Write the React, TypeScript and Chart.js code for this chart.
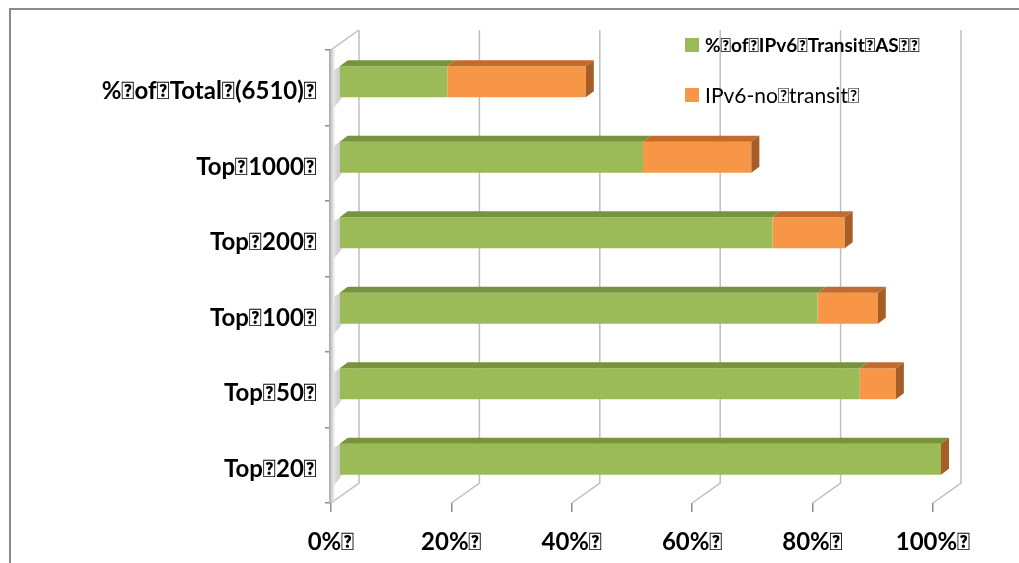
import React, { useEffect, useRef } from "react";
import { Chart, registerables } from "chart.js";
Chart.register(...registerables);

const T = "\uF020";
const categories = [
  `%${T}of${T}Total${T}(6510)${T}`,
  `Top${T}1000${T}`,
  `Top${T}200${T}`,
  `Top${T}100${T}`,
  `Top${T}50${T}`,
  `Top${T}20${T}`,
];
const transitValues = [18, 50.5, 72, 79.5, 86.5, 100];
const noTransitValues = [23, 18, 12, 10, 6, 0];
const seriesNames = [`%${T}of${T}IPv6${T}Transit${T}AS${T}${T}`, `IPv6-no${T}transit${T}`];
const xTickValues = [0, 20, 40, 60, 80, 100];

const FONT = "Lato, 'Liberation Sans', sans-serif";
const GREEN = "#9BBB59";
const ORANGE = "#F79646";
const faceColors = [
  { top: "#77933C", side: "#6E8A36" },
  { top: "#C46A2C", side: "#A65E26" },
];
const DEPTH = { x: 28, y: -20 };
const BAR_OFF = { x: 8, y: -6 };
const BAR_DEPTH = { x: 8, y: -6 };

const threeD = {
  id: "threeD",
  beforeDatasetsDraw(chart: any) {
    const { ctx, chartArea } = chart;
    const xs = chart.scales.x;
    const { top, bottom, left } = chartArea;
    ctx.save();
    ctx.strokeStyle = "#BFBFBF";
    ctx.lineWidth = 1.5;
    xTickValues.forEach((v) => {
      const px = xs.getPixelForValue(v);
      ctx.beginPath();
      ctx.moveTo(px + DEPTH.x, top + DEPTH.y);
      ctx.lineTo(px + DEPTH.x, bottom + DEPTH.y);
      ctx.lineTo(px, bottom);
      ctx.stroke();
    });
    ctx.beginPath();
    ctx.moveTo(left, bottom);
    ctx.lineTo(left, top);
    ctx.lineTo(left + DEPTH.x, top + DEPTH.y);
    ctx.stroke();
    const wg = ctx.createLinearGradient(left - 2, 0, left + 5, 0);
    wg.addColorStop(0, "#A6A6A6");
    wg.addColorStop(0.4, "#D0D0D0");
    wg.addColorStop(1, "rgba(230,230,230,0)");
    ctx.fillStyle = wg;
    ctx.fillRect(left - 2, top, 7, bottom - top);
    const meta = chart.getDatasetMeta(0);
    meta.data.forEach((el: any) => {
      const p = el.getProps(["y", "height"], true);
      const y0 = p.y - p.height / 2 + BAR_OFF.y;
      const g = ctx.createLinearGradient(left, 0, left + BAR_OFF.x + 6, 0);
      g.addColorStop(0, "rgba(0,0,0,0.0)");
      g.addColorStop(0.5, "rgba(0,0,0,0.2)");
      g.addColorStop(1, "rgba(0,0,0,0.0)");
      ctx.fillStyle = g;
      ctx.beginPath();
      ctx.moveTo(left + 3, y0 + 4);
      ctx.lineTo(left + BAR_OFF.x + 4, y0 - 2);
      ctx.lineTo(left + BAR_OFF.x + 4, y0 + p.height);
      ctx.lineTo(left + 3, y0 + p.height + 10);
      ctx.closePath();
      ctx.fill();
    });
    ctx.restore();
    ctx.save();
    ctx.translate(BAR_OFF.x, BAR_OFF.y);
  },
  afterDatasetsDraw(chart: any) {
    const { ctx } = chart;
    chart.data.datasets.forEach((ds: any, di: number) => {
      const meta = chart.getDatasetMeta(di);
      meta.data.forEach((el: any) => {
        const p = el.getProps(["x", "y", "base", "height"], true);
        const t = p.y - p.height / 2;
        const b = p.y + p.height / 2;
        const x0 = Math.min(p.x, p.base);
        const x1 = Math.max(p.x, p.base);
        if (x1 - x0 > 0.1) {
          ctx.fillStyle = faceColors[di].top;
          ctx.beginPath();
          ctx.moveTo(x0, t);
          ctx.lineTo(x1, t);
          ctx.lineTo(x1 + BAR_DEPTH.x, t + BAR_DEPTH.y);
          ctx.lineTo(x0 + BAR_DEPTH.x, t + BAR_DEPTH.y);
          ctx.closePath();
          ctx.fill();
        }
        if (di === chart.data.datasets.length - 1) {
          ctx.fillStyle = faceColors[di].side;
          ctx.beginPath();
          ctx.moveTo(x1, t);
          ctx.lineTo(x1 + BAR_DEPTH.x, t + BAR_DEPTH.y);
          ctx.lineTo(x1 + BAR_DEPTH.x, b + BAR_DEPTH.y);
          ctx.lineTo(x1, b);
          ctx.closePath();
          ctx.fill();
        }
      });
    });
    ctx.restore();
  },
  afterDraw(chart: any) {
    const { ctx } = chart;
    ctx.save();
    ctx.strokeStyle = "#8C8C8C";
    ctx.lineWidth = 2;
    ctx.beginPath();
    ctx.moveTo(10, 563);
    ctx.lineTo(10, 9);
    ctx.lineTo(1019, 9);
    ctx.stroke();
    const items = [
      { label: seriesNames[0], color: GREEN, y: 45, bold: true, size: 19 },
      { label: seriesNames[1], color: ORANGE, y: 95, bold: false, size: 21 },
    ];
    items.forEach((it) => {
      ctx.fillStyle = it.color;
      ctx.fillRect(685, it.y - 7, 14, 14);
      ctx.fillStyle = "#000";
      ctx.font = `${it.bold ? "bold " : ""}${it.size}px ${FONT}`;
      ctx.textBaseline = "middle";
      ctx.textAlign = "left";
      ctx.fillText(it.label, 705, it.y + 1);
    });
    ctx.restore();
  },
};

export default function App() {
  const ref = useRef<HTMLCanvasElement>(null);
  useEffect(() => {
    const chart = new Chart(ref.current!, {
      type: "bar",
      data: {
        labels: categories,
        datasets: [
          { label: seriesNames[0], data: transitValues, backgroundColor: GREEN },
          { label: seriesNames[1], data: noTransitValues, backgroundColor: ORANGE },
        ],
      },
      options: {
        indexAxis: "y",
        responsive: false,
        animation: false,
        maintainAspectRatio: false,
        layout: { padding: { left: 0, right: 86, top: 50, bottom: 0 } },
        datasets: { bar: { barPercentage: 0.41, categoryPercentage: 1 } },
        plugins: { legend: { display: false }, tooltip: { enabled: false } },
        scales: {
          x: {
            stacked: true,
            min: 0,
            max: 100,
            afterFit: (s: any) => { s.height = 60; },
            afterBuildTicks: (s: any) => { s.ticks = xTickValues.map((v) => ({ value: v })); },
            ticks: {
              callback: (v: any) => `${v}%${T}`,
              color: "#000",
              font: { family: FONT, size: 24, weight: "bold" },
              padding: 16,
              maxRotation: 0,
            },
            grid: { drawOnChartArea: false, tickLength: 9, color: "#8C8C8C", lineWidth: 1.5 },
            border: { display: false },
          },
          y: {
            stacked: true,
            afterFit: (s: any) => { s.width = 331; },
            ticks: {
              color: "#000",
              font: { family: FONT, size: 24, weight: "bold" },
              padding: 8,
              labelOffset: 4,
            },
            grid: { drawOnChartArea: false, tickLength: 6, color: "#8C8C8C", lineWidth: 1.5, offset: true },
            border: { display: false },
          },
        },
      },
      plugins: [threeD],
    });
    return () => chart.destroy();
  }, []);
  return (
    <div style={{ position: "fixed", left: 0, top: 0, width: 1019, height: 563, background: "#fff" }}>
      <canvas ref={ref} width={1019} height={563} />
    </div>
  );
}
